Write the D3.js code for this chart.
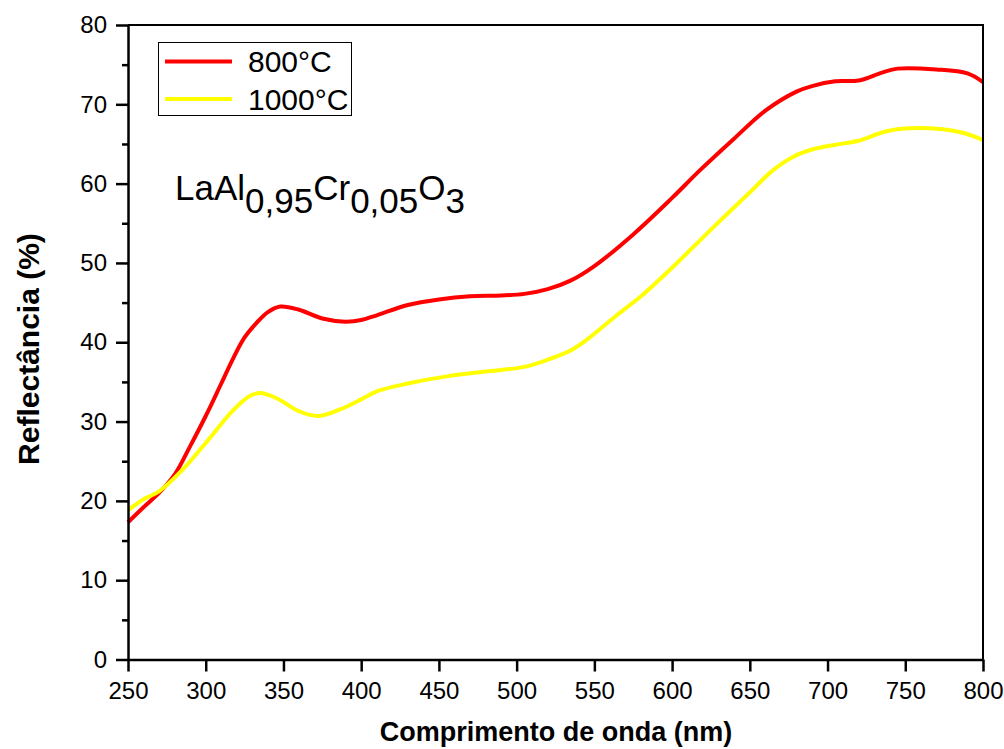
<!DOCTYPE html>
<html>
<head>
<meta charset="utf-8">
<script src="https://cdn.jsdelivr.net/npm/d3@7"></script>
<style>
  body { margin: 0; background: #fff; }
  text { font-family: "Liberation Sans", Arial, sans-serif; }
</style>
</head>
<body>
<script>
// wavelength (nm) and reflectance (%)
const wl800 = [250, 260, 270, 280, 290, 300, 310, 318, 325, 333, 340, 348, 360, 375, 390, 400, 410, 430, 450, 470, 490, 505, 520, 535, 550, 575, 600, 618, 640, 660, 680, 690, 705, 720, 735, 745, 770, 790, 800];
const r800 = [17.3, 19.2, 21.0, 23.3, 26.9, 30.7, 34.8, 38.1, 40.6, 42.5, 43.8, 44.5, 44.1, 43.0, 42.6, 42.8, 43.4, 44.7, 45.4, 45.8, 45.9, 46.1, 46.7, 47.8, 49.6, 53.6, 58.2, 61.7, 65.7, 69.2, 71.6, 72.3, 72.9, 73.0, 74.0, 74.5, 74.4, 73.9, 72.8];
const wl1000 = [250, 260, 270, 285, 300, 318, 328, 335, 345, 360, 372, 386, 400, 410, 430, 455, 480, 505, 520, 535, 545, 565, 580, 600, 625, 650, 665, 678, 690, 705, 720, 738, 758, 785, 800];
const r1000 = [18.8, 20.2, 21.2, 23.9, 27.3, 31.5, 33.2, 33.6, 33.0, 31.3, 30.7, 31.5, 32.8, 33.8, 34.8, 35.7, 36.3, 36.9, 37.8, 39.0, 40.3, 43.5, 45.8, 49.4, 54.2, 58.9, 61.7, 63.4, 64.3, 64.9, 65.4, 66.6, 67.0, 66.5, 65.5];
const xTicks = [250, 300, 350, 400, 450, 500, 550, 600, 650, 700, 750, 800];
const yTicks = [0, 10, 20, 30, 40, 50, 60, 70, 80];
const yMinor = [5, 15, 25, 35, 45, 55, 65, 75];
const seriesNames = ["800°C", "1000°C"];
const seriesColors = ["#ff0000", "#ffff00"];

const plotL = 128, plotT = 25, plotR = 983, plotB = 659.5;

const svg = d3.select("body").append("svg")
  .attr("width", 1004).attr("height", 749);

const x = d3.scaleLinear().domain([250, 800]).range([plotL, plotR]);
const y = d3.scaleLinear().domain([0, 80]).range([plotB, plotT]);

const line = d3.line()
  .x(d => x(d[0]))
  .y(d => y(d[1]))
  .curve(d3.curveCatmullRom.alpha(0.5));

const series = [
  d3.zip(wl800, r800),
  d3.zip(wl1000, r1000)
];

// curves
svg.append("g").selectAll("path")
  .data(series)
  .join("path")
  .attr("d", line)
  .attr("fill", "none")
  .attr("stroke", (d, i) => seriesColors[i])
  .attr("stroke-width", 4)
  .attr("stroke-linejoin", "round");

// frame
svg.append("path")
  .attr("d", `M${plotL},${plotT}H${plotR}V${plotB}`)
  .attr("fill", "none").attr("stroke", "#000").attr("stroke-width", 2);

const xAxis = d3.axisBottom(x).tickValues(xTicks).tickSize(12).tickPadding(10).tickSizeOuter(0);
const yAxis = d3.axisLeft(y).tickValues(yTicks).tickSize(12).tickPadding(9).tickSizeOuter(0);

const gx = svg.append("g").attr("transform", `translate(0,${plotB})`).call(xAxis);
const gy = svg.append("g").attr("transform", `translate(${plotL},0)`).call(yAxis);
svg.append("g").attr("transform", `translate(${plotL},0)`)
  .call(d3.axisLeft(y).tickValues(yMinor).tickSize(6).tickFormat("").tickSizeOuter(0))
  .select(".domain").remove();

[gx, gy].forEach(g => {
  g.select(".domain").attr("stroke-width", 2.5);
  g.selectAll(".tick text").attr("font-size", 24).attr("font-family", "Liberation Sans, Arial, sans-serif").attr("fill", "#000");
});
svg.selectAll(".tick line").attr("stroke-width", 2.5);

// axis titles
svg.append("text")
  .attr("x", 556).attr("y", 741)
  .attr("text-anchor", "middle")
  .attr("font-size", 27).attr("font-weight", "bold")
  .text("Comprimento de onda (nm)");

svg.append("text")
  .attr("transform", "translate(39,349) rotate(-90)")
  .attr("text-anchor", "middle")
  .attr("font-size", 30).attr("font-weight", "bold")
  .text("Reflectância (%)");

// legend
const lg = svg.append("g");
lg.append("rect")
  .attr("x", 158.5).attr("y", 42.5).attr("width", 193).attr("height", 73)
  .attr("fill", "#fff").attr("stroke", "#000").attr("stroke-width", 1);
seriesNames.forEach((name, i) => {
  const ly = 61.5 + i * 37.5;
  lg.append("line")
    .attr("x1", 165).attr("x2", 232).attr("y1", ly).attr("y2", ly)
    .attr("stroke", seriesColors[i]).attr("stroke-width", 4);
  lg.append("text")
    .attr("x", 248).attr("y", ly + 10.5)
    .attr("font-size", 30)
    .text(name);
});

// formula
const f = svg.append("text").attr("x", 175).attr("y", 200).attr("font-size", 35);
f.append("tspan").text("LaAl");
f.append("tspan").attr("dy", 13).text("0,95");
f.append("tspan").attr("dy", -13).text("Cr");
f.append("tspan").attr("dy", 13).text("0,05");
f.append("tspan").attr("dy", -13).text("O");
f.append("tspan").attr("dy", 13).text("3");
</script>
</body>
</html>
